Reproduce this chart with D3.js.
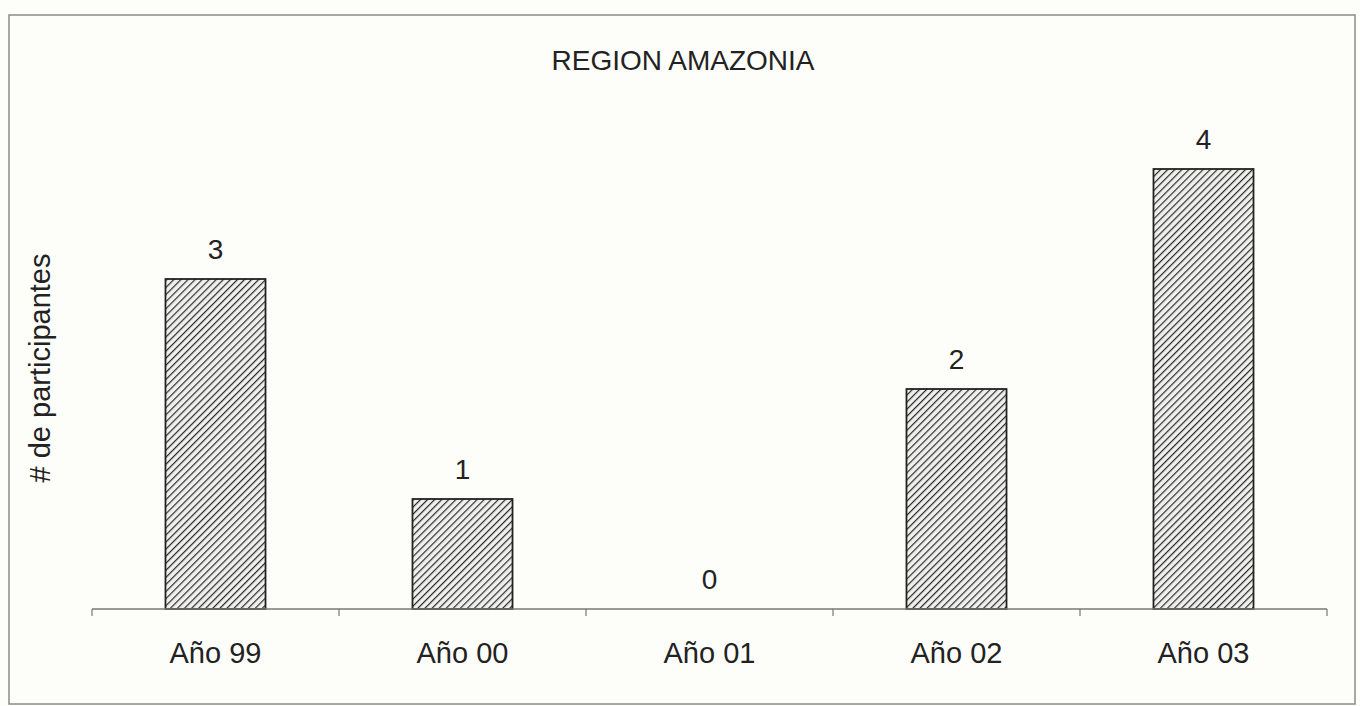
<!DOCTYPE html>
<html><head><meta charset="utf-8">
<script src="https://cdn.jsdelivr.net/npm/d3@7"></script>
<style>body{margin:0;background:#fdfdfa;}svg{display:block;}</style>
</head><body>
<svg id="c" width="1360" height="706"></svg>
<script>
const categories = ["Año 99","Año 00","Año 01","Año 02","Año 03"];
const values = [3,1,0,2,4];
const title = "REGION AMAZONIA";
const yLabel = "# de participantes";

const svg = d3.select("#c");
const font = "'Liberation Sans', Arial, sans-serif";
const fs = 29;
svg.append("rect").attr("x",9).attr("y",15).attr("width",1346).attr("height",689)
  .attr("fill","#fdfdfa").attr("stroke","#8a8a8a").attr("stroke-width",1.5);

const defs = svg.append("defs");
const pat = defs.append("pattern").attr("id","hatch").attr("patternUnits","userSpaceOnUse")
  .attr("width",5).attr("height",5).attr("patternTransform","rotate(45)");
pat.append("rect").attr("width",5).attr("height",5).attr("fill","#f0f0ec");
pat.append("line").attr("x1",0).attr("y1",0).attr("x2",0).attr("y2",5)
  .attr("stroke","#2a2a2a").attr("stroke-width",2.4);

const x = d3.scaleBand().domain(categories).range([92,1327]).paddingInner(0.595).paddingOuter(0.2975);
const y = d3.scaleLinear().domain([0,4]).range([609,169]);

svg.append("text").attr("x",683).attr("y",70).attr("text-anchor","middle")
  .attr("font-family",font).attr("font-size",fs-1).attr("fill","#222").text(title);

svg.append("text").attr("transform","translate(50,368) rotate(-90)").attr("text-anchor","middle")
  .attr("font-family",font).attr("font-size",fs).attr("fill","#222").text(yLabel);

svg.selectAll("rect.bar").data(values).join("rect").attr("class","bar")
  .attr("x",(d,i)=>x(categories[i])).attr("width",x.bandwidth())
  .attr("y",d=>y(d)).attr("height",d=>y(0)-y(d))
  .attr("fill","url(#hatch)").attr("stroke",d=>d>0?"#222":"none").attr("stroke-width",1.8);

svg.selectAll("text.val").data(values).join("text").attr("class","val")
  .attr("x",(d,i)=>x(categories[i])+x.bandwidth()/2).attr("y",d=>y(d)-20)
  .attr("text-anchor","middle").attr("font-family",font).attr("font-size",fs-1).attr("fill","#222")
  .text(d=>d);

// x axis
const xs = d3.scalePoint().domain(d3.range(categories.length+1)).range([92,1327]);
const ax = svg.append("g");
ax.append("line").attr("x1",92).attr("x2",1327).attr("y1",609).attr("y2",609)
  .attr("stroke","#777").attr("stroke-width",1.5);
ax.selectAll("line.tk").data(d3.range(categories.length+1)).join("line").attr("class","tk")
  .attr("x1",d=>xs(d)).attr("x2",d=>xs(d)).attr("y1",609).attr("y2",616)
  .attr("stroke","#777").attr("stroke-width",1.2);
ax.selectAll("text").data(categories).join("text")
  .attr("x",d=>x(d)+x.bandwidth()/2).attr("y",663).attr("text-anchor","middle")
  .attr("font-family",font).attr("font-size",fs).attr("fill","#222").text(d=>d);
</script>
</body></html>
